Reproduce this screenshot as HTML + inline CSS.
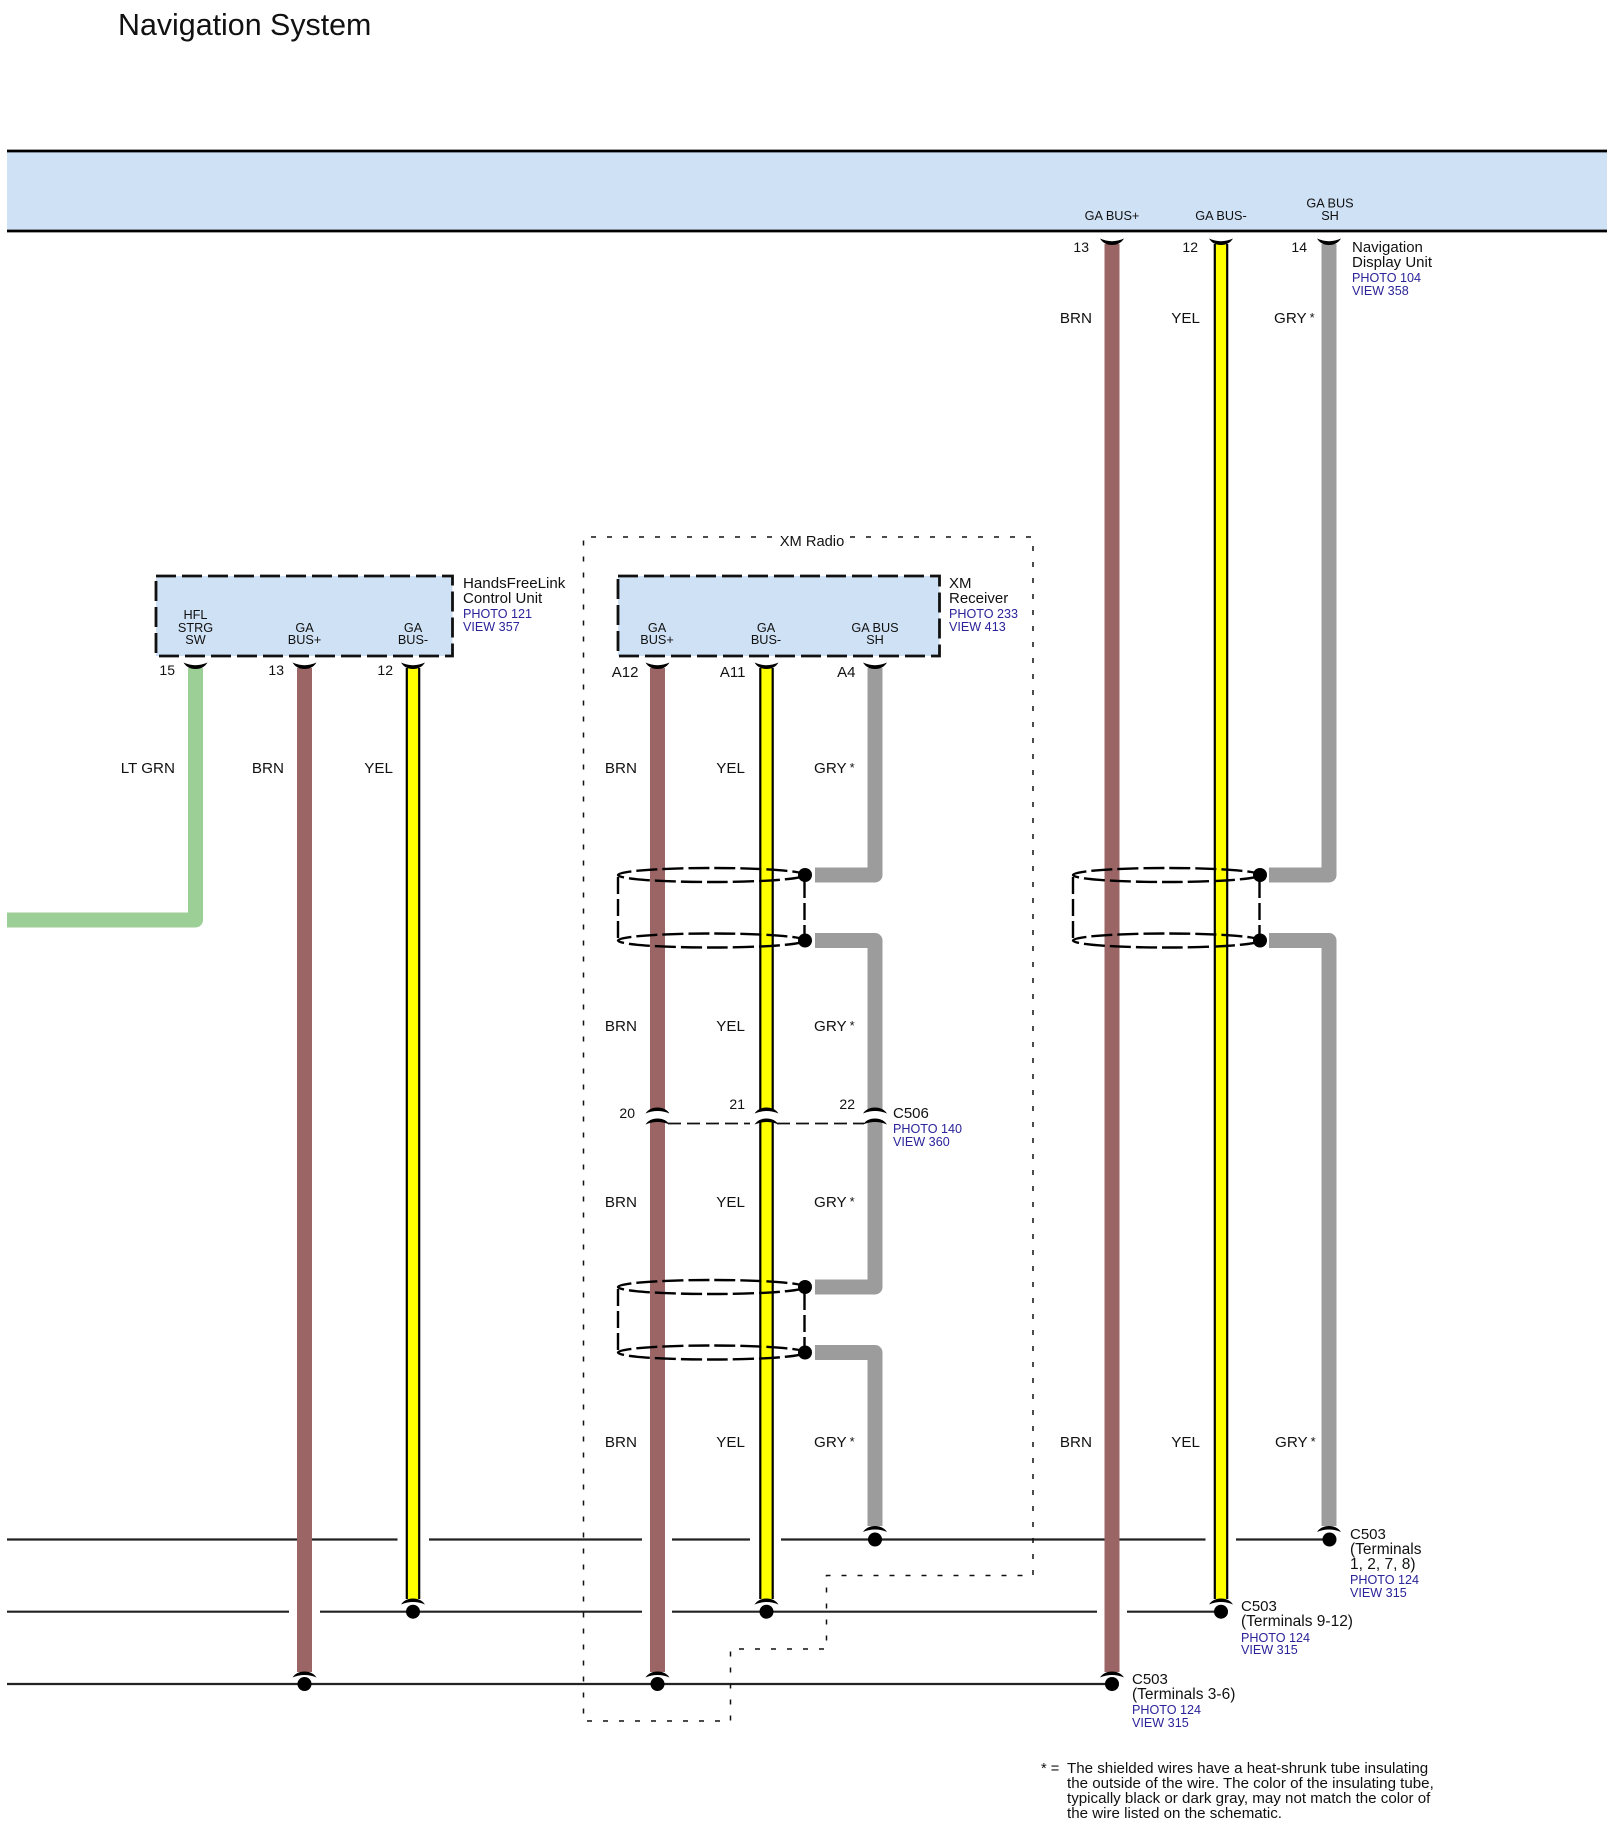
<!DOCTYPE html>
<html><head><meta charset="utf-8"><style>
html,body{margin:0;padding:0;background:#fff;width:1614px;height:1830px;overflow:hidden}
svg{display:block}
text{font-family:"Liberation Sans",sans-serif;fill:#111}
.l{font-size:15px}.t{font-size:15.5px}.s{font-size:12.7px;text-anchor:middle}.p{font-size:14px;text-anchor:end}
.a{font-size:15px;text-anchor:end}
.w{font-size:15.2px;text-anchor:end}.g{font-size:15.2px}.g tspan{font-size:13px}.b{font-size:12.6px;fill:#2b2399}
.f{font-size:15.12px}
</style></head><body>
<svg width="1614" height="1830" viewBox="0 0 1614 1830" xmlns="http://www.w3.org/2000/svg">
<defs>
<g id="cup"><path d="M-12,-0.5 Q-6,2.2 0,2.2 Q6,2.2 12,-0.5 Q8,6 0,6 Q-8,6 -12,-0.5Z" fill="#000"/></g>
<g id="cap"><path d="M-12,5.5 Q-8,-0.5 0,-0.5 Q8,-0.5 12,5.5 Q6,3 0,3 Q-6,3 -12,5.5Z" fill="#000"/></g>
<g id="shield" fill="none" stroke="#000" stroke-width="2.4" stroke-dasharray="21 5">
<ellipse cx="93.5" cy="0" rx="93.5" ry="7"/>
<ellipse cx="93.5" cy="65.5" rx="93.5" ry="7"/>
<path d="M0,2 V64 M186.5,6 V60" stroke-dasharray="17 5"/>
<circle cx="187" cy="0" r="7" fill="#000" stroke="none"/>
<circle cx="187" cy="65.5" r="7" fill="#000" stroke="none"/>
</g>
</defs>

<text x="118" y="35" style="font-size:30.4px">Navigation System</text>

<!-- band -->
<rect x="7" y="151" width="1600" height="80" fill="#cfe1f5"/>
<path d="M7,151 H1607 M7,231 H1607" stroke="#000" stroke-width="2.8" fill="none"/>
<text class="s" x="1112" y="220">GA BUS+</text>
<text class="s" x="1221" y="220">GA BUS-</text>
<text class="s" x="1330" y="207.5">GA BUS</text>
<text class="s" x="1330" y="220">SH</text>

<!-- bus lines -->
<path d="M7,1539.5 H397.5 M429,1539.5 H642 M672,1539.5 H750 M781,1539.5 H1205.5 M1236,1539.5 H1329
M7,1611.7 H289 M320,1611.7 H642 M672,1611.7 H1097 M1127,1611.7 H1221
M7,1684 H1112" stroke="#222" stroke-width="2.2" fill="none"/>

<!-- XM dotted outline -->
<path d="M772,537 H583.5 V1721 H730.5 V1649 H826.5 V1575.5 H1033 V537 H850" fill="none" stroke="#111" stroke-width="1.5" stroke-dasharray="5 11"/>
<text x="812" y="546" class="l" style="text-anchor:middle;font-size:14.7px">XM Radio</text>

<!-- boxes -->
<rect x="156" y="576" width="296.5" height="80" fill="#cfe1f5" stroke="#111" stroke-width="2.8" stroke-dasharray="20 6"/>
<rect x="618" y="576" width="321.5" height="80" fill="#cfe1f5" stroke="#111" stroke-width="2.8" stroke-dasharray="20 6"/>
<text class="s" x="195.5" y="619">HFL</text><text class="s" x="195.5" y="632">STRG</text><text class="s" x="195.5" y="644">SW</text>
<text class="s" x="304.5" y="632">GA</text><text class="s" x="304.5" y="644">BUS+</text>
<text class="s" x="413" y="632">GA</text><text class="s" x="413" y="644">BUS-</text>
<text class="s" x="657" y="632">GA</text><text class="s" x="657" y="644">BUS+</text>
<text class="s" x="766" y="632">GA</text><text class="s" x="766" y="644">BUS-</text>
<text class="s" x="875" y="632">GA BUS</text><text class="s" x="875" y="644">SH</text>

<text class="l" x="463" y="588" style="font-size:15.1px">HandsFreeLink</text><text class="l" x="463" y="603">Control Unit</text>
<text class="b" x="463" y="618">PHOTO 121</text><text class="b" x="463" y="631">VIEW 357</text>
<text class="l" x="949" y="588">XM</text><text class="l" x="949" y="603">Receiver</text>
<text class="b" x="949" y="618">PHOTO 233</text><text class="b" x="949" y="631">VIEW 413</text>
<text class="l" x="1352" y="252">Navigation</text><text class="l" x="1352" y="267">Display Unit</text>
<text class="b" x="1352" y="282">PHOTO 104</text><text class="b" x="1352" y="295">VIEW 358</text>

<!-- wires -->
<g fill="none" stroke-linejoin="round">
<path d="M7,920 H195.5 V668" stroke="#9ccf96" stroke-width="15"/>
<g stroke="#9b6565" stroke-width="15">
<path d="M304.5,668 V1672"/>
<path d="M657.5,668 V1110 M657.5,1120 V1672"/>
<path d="M1112,244 V1672"/>
</g>
<g stroke="#9c9c9c" stroke-width="15">
<path d="M875,668 V875 H815"/>
<path d="M815,940.5 H875 V1110"/>
<path d="M875,1120 V1287 H815"/>
<path d="M815,1352.5 H875 V1526"/>
<path d="M1329,244 V875 H1269"/>
<path d="M1269,940.5 H1329 V1526"/>
</g>
<g stroke="#000" stroke-width="14.6">
<path d="M413,668 V1599"/>
<path d="M766.5,668 V1110 M766.5,1120 V1599"/>
<path d="M1221,244 V1599"/>
</g>
<g stroke="#ffff00" stroke-width="10.2">
<path d="M413,668 V1599"/>
<path d="M766.5,668 V1110 M766.5,1120 V1599"/>
<path d="M1221,244 V1599"/>
</g>
</g>

<!-- shields -->
<use href="#shield" x="618" y="875"/>
<use href="#shield" x="618" y="1287"/>
<use href="#shield" x="1073" y="875"/>

<!-- connectors top -->
<use href="#cup" x="195.5" y="663"/><use href="#cup" x="304.5" y="663"/><use href="#cup" x="413" y="663"/>
<use href="#cup" x="657.5" y="663"/><use href="#cup" x="766.5" y="663"/><use href="#cup" x="875" y="663"/>
<use href="#cup" x="1112" y="239"/><use href="#cup" x="1221" y="239"/><use href="#cup" x="1329" y="239"/>

<!-- C506 -->
<use href="#cap" x="657.5" y="1108"/><use href="#cap" x="766.5" y="1108"/><use href="#cap" x="875" y="1108"/>
<use href="#cap" x="657.5" y="1119"/><use href="#cap" x="766.5" y="1119"/><use href="#cap" x="875" y="1119"/>
<path d="M668,1123.5 H750 M777,1123.5 H864" stroke="#111" stroke-width="1.8" stroke-dasharray="13 6" fill="none"/>
<text class="p" x="635" y="1118">20</text><text class="p" x="745" y="1109">21</text><text class="p" x="855" y="1109">22</text>
<text class="l" x="893" y="1118">C506</text><text class="b" x="893" y="1133">PHOTO 140</text><text class="b" x="893" y="1146">VIEW 360</text>

<!-- bottom terminals -->
<g fill="#000">
<circle cx="875" cy="1539.5" r="7"/><circle cx="1329.5" cy="1539.5" r="7"/>
<circle cx="413" cy="1611.7" r="7"/><circle cx="766.5" cy="1611.7" r="7"/><circle cx="1221" cy="1611.7" r="7"/>
<circle cx="304.5" cy="1684" r="7"/><circle cx="657.5" cy="1684" r="7"/><circle cx="1112" cy="1684" r="7"/>
</g>
<use href="#cap" x="875" y="1526.5"/><use href="#cap" x="1329" y="1526.5"/>
<use href="#cap" x="413" y="1599"/><use href="#cap" x="766.5" y="1599"/><use href="#cap" x="1221" y="1599"/>
<use href="#cap" x="304.5" y="1672"/><use href="#cap" x="657.5" y="1672"/><use href="#cap" x="1112" y="1672"/>

<!-- pin labels -->
<text class="p" x="175" y="675">15</text><text class="p" x="284" y="675">13</text><text class="p" x="393" y="675">12</text>
<text class="a" x="638.5" y="677">A12</text><text class="a" x="745.5" y="677">A11</text><text class="a" x="855.5" y="677">A4</text>
<text class="p" x="1089" y="252">13</text><text class="p" x="1198" y="252">12</text><text class="p" x="1307" y="252">14</text>

<!-- wire labels -->
<text class="w" x="175" y="773">LT GRN</text><text class="w" x="284" y="773">BRN</text><text class="w" x="393" y="773">YEL</text>
<text class="w" x="637" y="773">BRN</text><text class="w" x="745" y="773">YEL</text><text x="814" y="773" class="g">GRY<tspan dx="3" dy="-1">*</tspan></text>
<text class="w" x="637" y="1031">BRN</text><text class="w" x="745" y="1031">YEL</text><text x="814" y="1031" class="g">GRY<tspan dx="3" dy="-1">*</tspan></text>
<text class="w" x="637" y="1207">BRN</text><text class="w" x="745" y="1207">YEL</text><text x="814" y="1207" class="g">GRY<tspan dx="3" dy="-1">*</tspan></text>
<text class="w" x="637" y="1447">BRN</text><text class="w" x="745" y="1447">YEL</text><text x="814" y="1447" class="g">GRY<tspan dx="3" dy="-1">*</tspan></text>
<text class="w" x="1092" y="323">BRN</text><text class="w" x="1200" y="323">YEL</text><text x="1274" y="323" class="g">GRY<tspan dx="3" dy="-1">*</tspan></text>
<text class="w" x="1092" y="1447">BRN</text><text class="w" x="1200" y="1447">YEL</text><text x="1275" y="1447" class="g">GRY<tspan dx="3" dy="-1">*</tspan></text>

<!-- C503 -->
<text class="l" x="1350" y="1539">C503</text><text class="t" x="1350" y="1554">(Terminals</text><text class="t" x="1350" y="1569">1, 2, 7, 8)</text>
<text class="b" x="1350" y="1584">PHOTO 124</text><text class="b" x="1350" y="1597">VIEW 315</text>
<text class="l" x="1241" y="1611">C503</text><text class="t" x="1241" y="1626">(Terminals 9-12)</text>
<text class="b" x="1241" y="1642">PHOTO 124</text><text class="b" x="1241" y="1654">VIEW 315</text>
<text class="l" x="1132" y="1684">C503</text><text class="t" x="1132" y="1699">(Terminals 3-6)</text>
<text class="b" x="1132" y="1714">PHOTO 124</text><text class="b" x="1132" y="1727">VIEW 315</text>

<!-- footnote -->
<text class="f" x="1041" y="1773" style="font-size:14.6px">* =</text>
<text class="f" x="1067" y="1773">The shielded wires have a heat-shrunk tube insulating</text>
<text class="f" x="1067" y="1788">the outside of the wire. The color of the insulating tube,</text>
<text class="f" x="1067" y="1803">typically black or dark gray, may not match the color of</text>
<text class="f" x="1067" y="1818">the wire listed on the schematic.</text>
</svg>
</body></html>
